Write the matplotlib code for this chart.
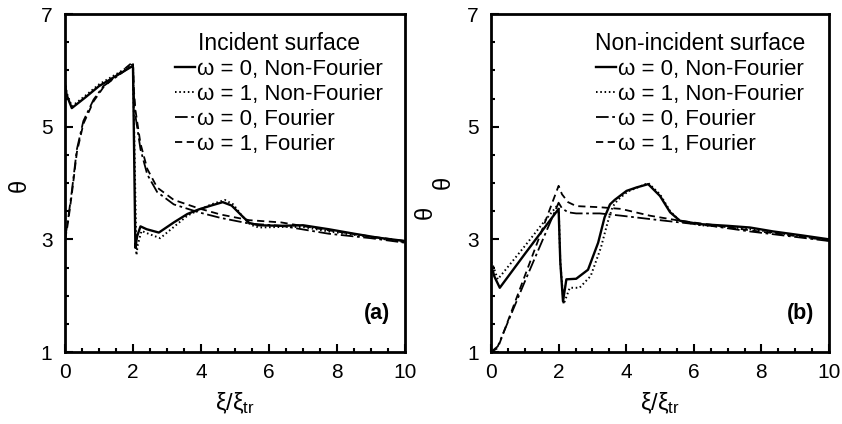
import numpy as np
import matplotlib
matplotlib.use("Agg")
import matplotlib.pyplot as plt
from matplotlib.ticker import MultipleLocator, FixedLocator

plt.rcParams['font.family'] = ['Liberation Sans', 'DejaVu Sans']
plt.rcParams['mathtext.fontset'] = 'custom'
plt.rcParams['mathtext.rm'] = 'Liberation Sans'
plt.rcParams['mathtext.it'] = 'Liberation Sans'

# ---- panel (a): incident surface ----
a_nf0_x = [0.0, 0.05, 0.2, 0.6, 1.0, 1.5, 1.97, 2.0, 2.07, 2.12, 2.22, 2.4, 2.76, 3.2, 3.6, 3.93, 4.3, 4.64, 4.9, 5.2, 5.42, 5.7, 6.36, 7.0, 7.75, 8.5, 9.2, 10.0]
a_nf0_y = [5.75, 5.56, 5.33, 5.52, 5.72, 5.9, 6.07, 6.05, 2.85, 3.05, 3.23, 3.18, 3.12, 3.3, 3.45, 3.53, 3.6, 3.66, 3.6, 3.42, 3.29, 3.25, 3.24, 3.25, 3.18, 3.1, 3.03, 2.97]
a_nf1_x = [0.0, 0.05, 0.2, 0.6, 1.0, 1.5, 1.97, 2.0, 2.1, 2.14, 2.25, 2.45, 2.8, 3.2, 3.6, 3.93, 4.3, 4.7, 4.95, 5.2, 5.45, 5.7, 6.36, 7.0, 7.75, 8.5, 9.2, 10.0]
a_nf1_y = [5.8, 5.6, 5.36, 5.55, 5.75, 5.93, 6.1, 6.08, 2.72, 2.9, 3.15, 3.1, 3.02, 3.22, 3.42, 3.52, 3.62, 3.7, 3.62, 3.42, 3.26, 3.21, 3.22, 3.22, 3.14, 3.08, 3.02, 2.95]
a_f0_x = [0.0, 0.05, 0.1, 0.2, 0.35, 0.54, 0.84, 1.13, 1.5, 2.0, 2.02, 2.07, 2.22, 2.42, 2.71, 3.2, 3.93, 4.58, 5.42, 6.36, 7.75, 9.0, 10.0]
a_f0_y = [3.0, 3.2, 3.4, 3.85, 4.6, 5.1, 5.48, 5.72, 5.88, 6.1, 5.6, 5.2, 4.6, 4.15, 3.84, 3.62, 3.48, 3.38, 3.28, 3.24, 3.1, 3.02, 2.94]
a_f1_y = [3.0, 3.15, 3.35, 3.8, 4.55, 5.05, 5.45, 5.7, 5.9, 6.15, 5.7, 5.3, 4.7, 4.25, 3.92, 3.7, 3.55, 3.44, 3.34, 3.3, 3.16, 3.05, 2.97]

# ---- panel (b): non-incident surface ----
b_nf0_x = [0.0, 0.05, 0.1, 0.26, 1.0, 1.5, 2.0, 2.05, 2.13, 2.23, 2.52, 2.87, 3.17, 3.36, 3.52, 3.66, 4.01, 4.3, 4.65, 5.0, 5.3, 5.59, 6.18, 7.0, 7.66, 8.35, 9.2, 10.0]
b_nf0_y = [2.5, 2.45, 2.34, 2.14, 2.74, 3.14, 3.54, 2.6, 1.9, 2.29, 2.3, 2.46, 2.94, 3.39, 3.62, 3.7, 3.86, 3.92, 3.98, 3.77, 3.48, 3.33, 3.27, 3.24, 3.21, 3.14, 3.07, 3.0]
b_nf1_x = [0.0, 0.05, 0.2, 1.0, 1.5, 2.0, 2.05, 2.15, 2.33, 2.62, 2.95, 3.25, 3.45, 3.6, 3.75, 4.05, 4.65, 5.0, 5.3, 5.6, 6.2, 7.0, 7.7, 8.4, 9.2, 10.0]
b_nf1_y = [2.6, 2.55, 2.29, 2.88, 3.26, 3.63, 2.6, 1.85, 2.14, 2.14, 2.35, 2.85, 3.3, 3.58, 3.7, 3.85, 4.0, 3.8, 3.5, 3.32, 3.25, 3.22, 3.18, 3.12, 3.05, 2.98]
b_f_x = [0.0, 0.2, 1.0, 1.8, 2.0, 2.1, 2.28, 2.52, 3.22, 3.85, 4.7, 5.59, 6.5, 7.66, 8.5, 10.0]
b_f0_y = [1.0, 1.1, 2.25, 3.37, 3.65, 3.55, 3.48, 3.46, 3.46, 3.42, 3.36, 3.3, 3.24, 3.14, 3.08, 2.97]
b_f1_y = [1.0, 1.07, 2.35, 3.63, 3.95, 3.8, 3.66, 3.59, 3.57, 3.54, 3.42, 3.33, 3.26, 3.16, 3.1, 2.98]

x_ticks = [0, 2, 4, 6, 8, 10]
y_ticks = [1, 3, 5, 7]
labels = ["\u03c9 = 0, Non-Fourier", "\u03c9 = 1, Non-Fourier",
          "\u03c9 = 0, Fourier", "\u03c9 = 1, Fourier"]

fig = plt.figure(figsize=(8.42, 4.24), dpi=100)
ax1 = fig.add_axes([65/842, 1-352/424, 340/842, 338/424])
ax2 = fig.add_axes([491/842, 1-352/424, 338/842, 338/424])

def draw(ax, nf0, nf1, f0, f1, title, tag, anchor):
    ax.plot(*nf0, color='k', lw=1.7, label=labels[0])
    ax.plot(*nf1, color='k', lw=1.4, ls=(0, (0.8, 1.4)), label=labels[1])
    ax.plot(*f0, color='k', lw=1.3, ls=(0, (7, 2, 1.5, 2)), label=labels[2])
    ax.plot(*f1, color='k', lw=1.3, ls=(0, (4, 2.5)), label=labels[3])
    ax.set_xlim(0, 10)
    ax.set_ylim(1, 7)
    ax.xaxis.set_major_locator(FixedLocator(x_ticks))
    ax.xaxis.set_minor_locator(MultipleLocator(0.5))
    ax.yaxis.set_major_locator(FixedLocator(y_ticks))
    ax.yaxis.set_minor_locator(MultipleLocator(0.5))
    ax.tick_params(which='both', direction='in', width=1.5, labelsize=15)
    ax.tick_params(which='major', length=6)
    ax.tick_params(axis='x', which='major', pad=8)
    ax.tick_params(axis='y', which='major', pad=9)
    ax.tick_params(which='minor', length=3)
    for s in ax.spines.values():
        s.set_linewidth(2.0)
    ax.set_xlabel(r'$\xi/\xi_{\mathrm{tr}}$', fontsize=17, labelpad=6)
    leg = ax.legend(loc='upper right', bbox_to_anchor=anchor, frameon=False,
                    title=title, fontsize=16, title_fontsize=16.5,
                    handlelength=0.9, handletextpad=0.1, labelspacing=0.18,
                    borderaxespad=0.0, borderpad=0.0)
    leg._legend_box.align = 'center'
    ax.text(0.955, 0.115, tag, transform=ax.transAxes, ha='right', va='center',
            fontsize=15.5, fontweight='bold')

draw(ax1, (a_nf0_x, a_nf0_y), (a_nf1_x, a_nf1_y), (a_f0_x, a_f0_y), (a_f0_x, a_f1_y),
     "Incident surface", "(a)", (0.935, 0.947))
draw(ax2, (b_nf0_x, b_nf0_y), (b_nf1_x, b_nf1_y), (b_f_x, b_f0_y), (b_f_x, b_f1_y),
     "Non-incident surface", "(b)", (0.93, 0.947))

fig.text(20/842, 1-185/424, "\u03b8", rotation=90, fontsize=17, ha='center', va='center')
fig.text(426/842, 1-212/424, "\u03b8", rotation=90, fontsize=17, ha='center', va='center')
fig.text(444/842, 1-182/424, "\u03b8", rotation=90, fontsize=17, ha='center', va='center')

fig.savefig("out.png", dpi=100)
